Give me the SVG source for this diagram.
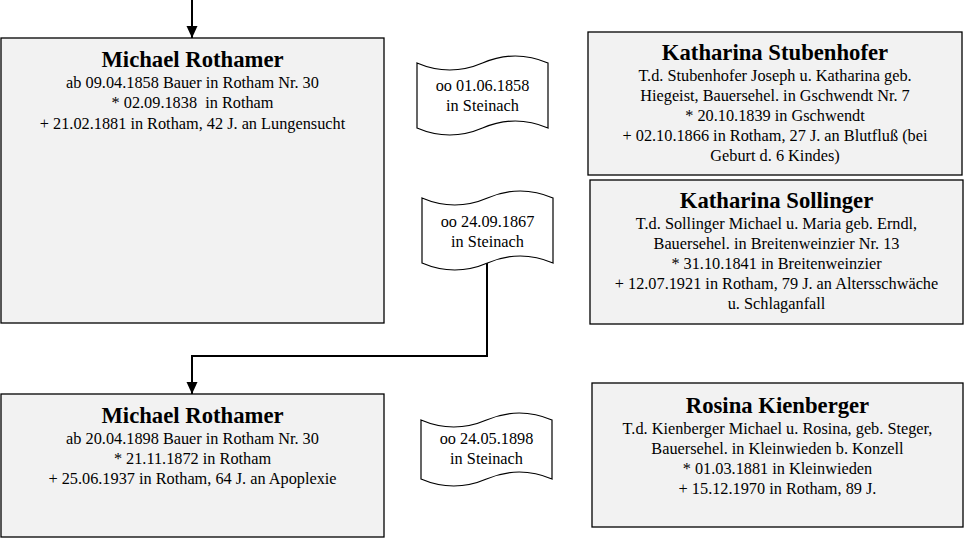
<svg xmlns="http://www.w3.org/2000/svg" width="965" height="538" viewBox="0 0 965 538">
<defs>
<style>
.box{fill:#f2f2f2;stroke:#000;stroke-width:1.3}
.tape{fill:#fff;stroke:#000;stroke-width:1.2}
.t{font-family:"Liberation Serif","Times New Roman",serif;font-size:16.3px;fill:#000;text-anchor:middle;white-space:pre}
.h{font-family:"Liberation Serif","Times New Roman",serif;font-size:22.7px;font-weight:bold;fill:#000;text-anchor:middle}
.c{fill:none;stroke:#000;stroke-width:2}
</style>
<marker id="arr" viewBox="0 0 12 12" refX="12" refY="6" markerWidth="12" markerHeight="12" markerUnits="userSpaceOnUse" orient="auto">
<path d="M0,0.5 L12,6 L0,11.5 Z" fill="#000"/>
</marker>
</defs>

<g id="connectors">
<path class="c" d="M192,0 L192,38" marker-end="url(#arr)"/>
<path class="c" d="M487,263 L487,356 L192,356 L192,394" marker-end="url(#arr)"/>
</g>

<g id="michael1">
<rect class="box" x="1" y="38" width="383" height="285"/>
<text class="h" x="192.5" y="66.5">Michael Rothamer</text>
<text class="t" x="192.5" y="87.5">ab 09.04.1858 Bauer in Rotham Nr. 30</text>
<text class="t" x="192.5" y="108">* 02.09.1838  in Rotham</text>
<text class="t" x="192.5" y="128.5">+ 21.02.1881 in Rotham, 42 J. an Lungensucht</text>
</g>

<g id="marriage1">
<path class="tape" d="M417,63 Q449.75,77 482.5,63 Q515.25,49 548,63 L548,128 Q515.25,114 482.5,128 Q449.75,142 417,128 Z"/>
<text class="t" x="482.5" y="90.5">oo 01.06.1858</text>
<text class="t" x="482.5" y="110.5">in Steinach</text>
</g>

<g id="stubenhofer">
<rect class="box" x="588" y="32" width="374" height="143"/>
<text class="h" x="775" y="60">Katharina Stubenhofer</text>
<text class="t" x="775" y="80.5">T.d. Stubenhofer Joseph u. Katharina geb.</text>
<text class="t" x="775" y="100.5">Hiegeist, Bauersehel. in Gschwendt Nr. 7</text>
<text class="t" x="775" y="120.5">* 20.10.1839 in Gschwendt</text>
<text class="t" x="775" y="140.5">+ 02.10.1866 in Rotham, 27 J. an Blutfluß (bei</text>
<text class="t" x="775" y="160.5">Geburt d. 6 Kindes)</text>
</g>

<g id="marriage2">
<path class="tape" d="M422,198 Q454.75,212 487.5,198 Q520.25,184 553,198 L553,263 Q520.25,249 487.5,263 Q454.75,277 422,263 Z"/>
<text class="t" x="487.5" y="227">oo 24.09.1867</text>
<text class="t" x="487.5" y="247">in Steinach</text>
</g>

<g id="sollinger">
<rect class="box" x="590" y="180" width="373" height="144"/>
<text class="h" x="776.5" y="208">Katharina Sollinger</text>
<text class="t" x="776.5" y="229">T.d. Sollinger Michael u. Maria geb. Erndl,</text>
<text class="t" x="776.5" y="249">Bauersehel. in Breitenweinzier Nr. 13</text>
<text class="t" x="776.5" y="269">* 31.10.1841 in Breitenweinzier</text>
<text class="t" x="776.5" y="289">+ 12.07.1921 in Rotham, 79 J. an Altersschwäche</text>
<text class="t" x="776.5" y="309">u. Schlaganfall</text>
</g>

<g id="michael2">
<rect class="box" x="1" y="394" width="383" height="143"/>
<text class="h" x="192.5" y="422.5">Michael Rothamer</text>
<text class="t" x="192.5" y="443.5">ab 20.04.1898 Bauer in Rotham Nr. 30</text>
<text class="t" x="192.5" y="463.5">* 21.11.1872 in Rotham</text>
<text class="t" x="192.5" y="483.5">+ 25.06.1937 in Rotham, 64 J. an Apoplexie</text>
</g>

<g id="marriage3">
<path class="tape" d="M421,420 Q453.75,434 486.5,420 Q519.25,406 552,420 L552,479 Q519.25,465 486.5,479 Q453.75,493 421,479 Z"/>
<text class="t" x="486.5" y="443.5">oo 24.05.1898</text>
<text class="t" x="486.5" y="463.5">in Steinach</text>
</g>

<g id="kienberger">
<rect class="box" x="592" y="383" width="371" height="144"/>
<text class="h" x="777.5" y="413">Rosina Kienberger</text>
<text class="t" x="777.5" y="433.5">T.d. Kienberger Michael u. Rosina, geb. Steger,</text>
<text class="t" x="777.5" y="453.5">Bauersehel. in Kleinwieden b. Konzell</text>
<text class="t" x="777.5" y="473.5">* 01.03.1881 in Kleinwieden</text>
<text class="t" x="777.5" y="493.5">+ 15.12.1970 in Rotham, 89 J.</text>
</g>
</svg>
